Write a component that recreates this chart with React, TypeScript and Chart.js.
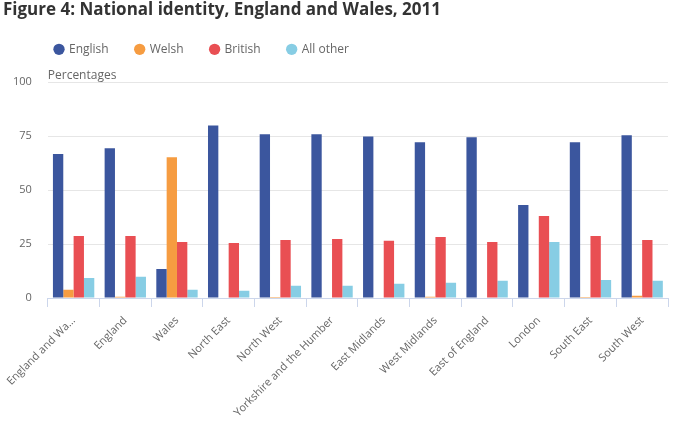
import { useEffect, useRef } from 'react';
import { Chart, registerables } from 'chart.js';

Chart.register(...registerables);

const categories = [
  'England and Wa...',
  'England',
  'Wales',
  'North East',
  'North West',
  'Yorkshire and the Humber',
  'East Midlands',
  'West Midlands',
  'East of England',
  'London',
  'South East',
  'South West',
];

const english = [66.8, 69.4, 13.5, 80.0, 75.9, 75.9, 74.9, 72.2, 74.5, 43.1, 72.2, 75.4];
const welsh = [3.8, 0.6, 65.2, 0, 0.5, 0, 0, 0.6, 0, 0, 0.5, 1.1];
const british = [28.8, 28.8, 26.0, 25.5, 26.9, 27.4, 26.5, 28.3, 26.0, 38.0, 28.8, 26.9];
const allOther = [9.3, 9.8, 3.8, 3.4, 5.7, 5.7, 6.6, 7.1, 8.0, 26.0, 8.4, 8.0];

const yTicks = [0, 25, 50, 75, 100];

const FONT = "'Open Sans', 'Noto Sans', sans-serif";

const layoutPlugin = {
  id: 'layoutTweaks',
  beforeInit(chart: any) {
    const legend = chart.legend;
    if (legend) {
      const origFit = legend.fit;
      legend.fit = function () {
        origFit.call(this);
        this.height += 15;
      };
    }
  },
  afterLayout(chart: any) {
    if (chart.legend) {
      chart.legend.left += 28;
      chart.legend.top -= 2;
    }
    if (chart.titleBlock) {
      chart.titleBlock.left += 3;
    }
  },
  afterDraw(chart: any) {
    const { ctx, chartArea } = chart;
    ctx.save();
    ctx.font = `12px ${FONT}`;
    ctx.fillStyle = '#666666';
    ctx.textAlign = 'left';
    ctx.textBaseline = 'alphabetic';
    ctx.fillText('Percentages', chartArea.left, chartArea.top - 3);
    ctx.restore();
  },
};

export default function App() {
  const ref = useRef<HTMLCanvasElement>(null);

  useEffect(() => {
    document.body.style.margin = '0';
    const canvas = ref.current;
    if (!canvas) return;
    const chart = new Chart(canvas, {
      type: 'bar',
      data: {
        labels: categories,
        datasets: [
          { label: 'English', data: english, backgroundColor: '#3b569e' },
          { label: 'Welsh', data: welsh, backgroundColor: '#f69c41' },
          { label: 'British', data: british, backgroundColor: '#e94f53' },
          { label: 'All other', data: allOther, backgroundColor: '#87cde4' },
        ],
      },
      options: {
        animation: false,
        responsive: true,
        maintainAspectRatio: false,
        layout: { padding: { left: 0, right: 5, top: 0, bottom: 0 } },
        datasets: {
          bar: { categoryPercentage: 0.8, barPercentage: 1.0 },
        },
        plugins: {
          title: {
            display: true,
            text: 'Figure 4: National identity, England and Wales, 2011',
            align: 'start',
            color: '#333333',
            font: { family: FONT, size: 17, weight: 'bold', lineHeight: 0.9 },
            padding: { top: 3, bottom: 0 },
          },
          legend: {
            display: true,
            position: 'top',
            align: 'start',
            labels: {
              usePointStyle: true,
              pointStyle: 'circle',
              boxWidth: 8,
              boxHeight: 8,
              padding: 27,
              color: '#666666',
              font: { family: FONT, size: 12 },
            },
          },
          tooltip: { enabled: false },
        },
        scales: {
          x: {
            afterFit: (scale: any) => {
              scale.height = 125;
            },
            grid: {
              display: true,
              drawOnChartArea: false,
              offset: true,
              color: '#ccd6eb',
              tickLength: 9,
            },
            border: { display: true, color: '#ccd6eb' },
            ticks: {
              color: '#666666',
              font: { family: FONT, size: 11 },
              minRotation: 45,
              maxRotation: 45,
              autoSkip: false,
              padding: 7,
            },
          },
          y: {
            min: 0,
            max: 100,
            afterFit: (scale: any) => {
              scale.width = 47;
            },
            afterBuildTicks: (scale: any) => {
              scale.ticks = yTicks.map((v) => ({ value: v }));
            },
            grid: { color: '#e6e6e6', drawTicks: false },
            border: { display: false },
            ticks: {
              color: '#666666',
              font: { family: FONT, size: 11 },
              padding: 16,
            },
          },
        },
      },
      plugins: [layoutPlugin],
    });
    return () => chart.destroy();
  }, []);

  return (
    <div style={{ position: 'relative', width: 673, height: 423 }}>
      <canvas ref={ref} />
    </div>
  );
}
